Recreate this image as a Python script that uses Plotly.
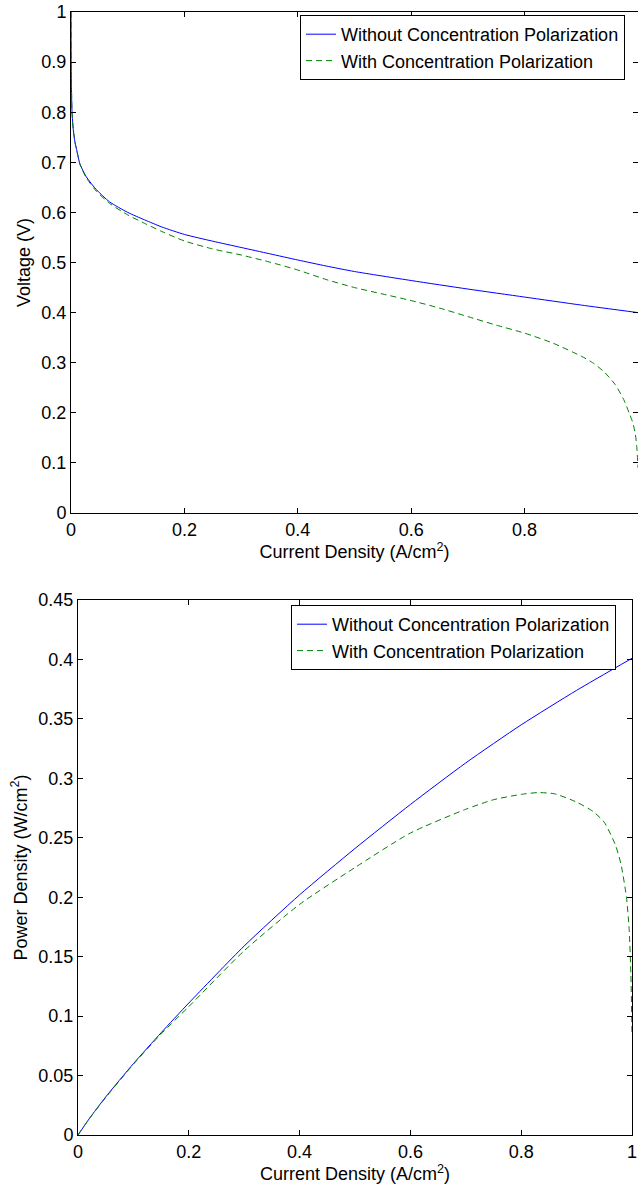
import plotly.graph_objects as go

# ---- data ----
x_v_blue = [0, 0.0003, 0.0008, 0.0018, 0.004, 0.007, 0.01, 0.016, 0.027, 0.045, 0.068,
            0.1, 0.13, 0.16, 0.2, 0.25, 0.3, 0.35, 0.4, 0.45, 0.5, 0.6, 0.7, 0.8, 0.9, 1.0]
v_blue = [1.0, 0.9, 0.85, 0.80, 0.765, 0.74, 0.725, 0.696, 0.671, 0.645, 0.621,
          0.600, 0.585, 0.571, 0.556, 0.5425, 0.530, 0.5175, 0.505, 0.493, 0.482, 0.464, 0.447, 0.431, 0.415, 0.400]

x_v_green = [0, 0.0003, 0.0008, 0.0018, 0.004, 0.007, 0.01, 0.016, 0.027, 0.045, 0.068,
             0.1, 0.13, 0.16, 0.2, 0.25, 0.3, 0.35, 0.4, 0.45, 0.5, 0.55, 0.6, 0.65, 0.7, 0.75,
             0.8, 0.85, 0.9, 0.92, 0.94, 0.96, 0.975, 0.985, 0.99, 0.995, 0.998, 1.0]
v_green = [1.0, 0.9, 0.85, 0.80, 0.765, 0.74, 0.724, 0.695, 0.669, 0.642, 0.618,
           0.595, 0.578, 0.562, 0.543, 0.527, 0.515, 0.501, 0.485, 0.466, 0.450, 0.437, 0.424, 0.409, 0.392, 0.375,
           0.359, 0.339, 0.313, 0.300, 0.282, 0.256, 0.226, 0.198, 0.183, 0.160, 0.130, 0.090]

x_p_blue = [0, 0.02, 0.05, 0.1, 0.15, 0.2, 0.3, 0.4, 0.5, 0.6, 0.7, 0.8, 0.9, 1.0]
p_blue = [0, 0.0135, 0.032, 0.060, 0.086, 0.111, 0.159, 0.202, 0.241, 0.278, 0.313, 0.345, 0.374, 0.401]

x_p_green = [0, 0.02, 0.05, 0.1, 0.15, 0.2, 0.3, 0.4, 0.5, 0.6, 0.7, 0.75, 0.8, 0.83, 0.86,
             0.9, 0.93, 0.95, 0.97, 0.98, 0.99, 0.995, 0.998, 1.0]
p_green = [0, 0.0134, 0.0315, 0.0595, 0.085, 0.108, 0.155, 0.194, 0.225, 0.254, 0.274, 0.282, 0.2865, 0.288, 0.287,
           0.280, 0.272, 0.263, 0.244, 0.228, 0.200, 0.172, 0.135, 0.085]

x_ticks = [0, 0.2, 0.4, 0.6, 0.8, 1]
x_tick_text = ["0", "0.2", "0.4", "0.6", "0.8", "1"]
v_ticks = [0, 0.1, 0.2, 0.3, 0.4, 0.5, 0.6, 0.7, 0.8, 0.9, 1]
v_tick_text = ["0", "0.1", "0.2", "0.3", "0.4", "0.5", "0.6", "0.7", "0.8", "0.9", "1"]
p_ticks = [0, 0.05, 0.1, 0.15, 0.2, 0.25, 0.3, 0.35, 0.4, 0.45]
p_tick_text = ["0", "0.05", "0.1", "0.15", "0.2", "0.25", "0.3", "0.35", "0.4", "0.45"]

name_without = "Without Concentration Polarization"
name_with = "With Concentration Polarization"

W, H = 638, 1187
FONT = "Liberation Sans, Arial, Helvetica, sans-serif"
BLUE = "#0000ff"
GREEN = "#008000"
DASH = "6px,4px"

fig = go.Figure()
fig.add_trace(go.Scatter(x=x_v_blue, y=v_blue, mode="lines", name=name_without,
                         line=dict(color=BLUE, width=1, shape="spline", smoothing=0.6),
                         xaxis="x", yaxis="y", legend="legend"))
fig.add_trace(go.Scatter(x=x_v_green, y=v_green, mode="lines", name=name_with,
                         line=dict(color=GREEN, width=1, dash=DASH, shape="spline", smoothing=0.6),
                         xaxis="x", yaxis="y", legend="legend"))
fig.add_trace(go.Scatter(x=x_p_blue, y=p_blue, mode="lines", name=name_without,
                         line=dict(color=BLUE, width=1, shape="spline", smoothing=0.6),
                         xaxis="x2", yaxis="y2", legend="legend2"))
fig.add_trace(go.Scatter(x=x_p_green, y=p_green, mode="lines", name=name_with,
                         line=dict(color=GREEN, width=1, dash=DASH, shape="spline", smoothing=0.6),
                         xaxis="x2", yaxis="y2", legend="legend2"))

def px_x(p):
    return p / W

def px_y(p):
    return 1 - p / H

axis_common = dict(showline=True, linecolor="black", linewidth=1, mirror="ticks",
                   ticks="inside", ticklen=5, tickcolor="black", tickwidth=1,
                   showgrid=False, zeroline=False, automargin=False,
                   tickfont=dict(family=FONT, size=18, color="black"))

fig.update_layout(
    width=W, height=H,
    margin=dict(l=0, r=0, t=0, b=0),
    paper_bgcolor="white", plot_bgcolor="white",
    template="none",
    font=dict(family=FONT, size=18, color="black"),
    xaxis=dict(domain=[px_x(71), 1.0], range=[0, 1], anchor="y",
               tickvals=x_ticks, ticktext=x_tick_text,
               title=dict(text="Current Density (A/cm<sup>2</sup>)", font=dict(family=FONT, size=18), standoff=6),
               **axis_common),
    yaxis=dict(domain=[px_y(513), px_y(12)], range=[0, 1], anchor="x",
               tickvals=v_ticks, ticktext=v_tick_text,
               title=dict(text="Voltage (V)", font=dict(family=FONT, size=18), standoff=6),
               **axis_common),
    xaxis2=dict(domain=[px_x(78), px_x(632)], range=[0, 1], anchor="y2",
                tickvals=x_ticks, ticktext=x_tick_text,
                title=dict(text="Current Density (A/cm<sup>2</sup>)", font=dict(family=FONT, size=18), standoff=6),
                **axis_common),
    yaxis2=dict(domain=[px_y(1135), px_y(600)], range=[0, 0.45], anchor="x2",
                tickvals=p_ticks, ticktext=p_tick_text,
                title=dict(text="Power Density (W/cm<sup>2</sup>)", font=dict(family=FONT, size=18), standoff=6),
                **axis_common),
    legend=dict(x=px_x(300), y=px_y(15), xanchor="left", yanchor="top",
                bgcolor="white", bordercolor="black", borderwidth=1,
                font=dict(family=FONT, size=18, color="black"), tracegroupgap=0),
    legend2=dict(x=px_x(291), y=px_y(605), xanchor="left", yanchor="top",
                 bgcolor="white", bordercolor="black", borderwidth=1,
                 font=dict(family=FONT, size=18, color="black"), tracegroupgap=0),
)

fig.write_html("out.html",
               config={"displayModeBar": False, "responsive": False},
               post_script="document.body.style.margin='0';document.body.style.overflow='hidden';")
